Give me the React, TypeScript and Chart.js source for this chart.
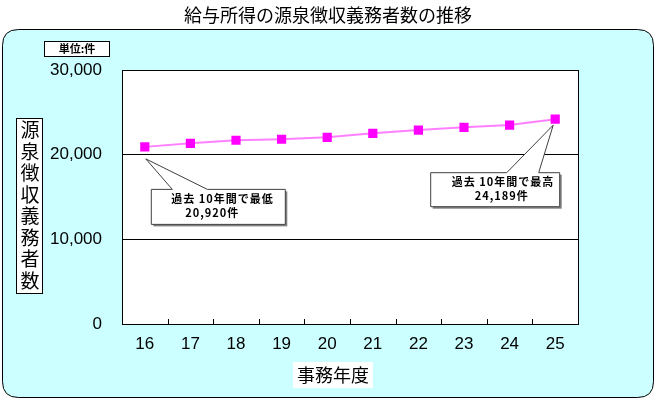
import React, { useEffect, useRef } from 'react';
import { Chart, registerables } from 'chart.js';

Chart.register(...registerables);

const categories = ['16', '17', '18', '19', '20', '21', '22', '23', '24', '25'];
const counts = [20920, 21340, 21700, 21820, 22050, 22520, 22900, 23230, 23500, 24189];
const yMin = 0;
const yMax = 30000;
const yStep = 10000;
const chartTitle = '給与所得の源泉徴収義務者数の推移';
const yAxisTitle = '源泉徴収義務者数';
const xAxisTitle = '事務年度';
const unitLabel = '単位:件';
const lowNote = ['過去 10年間で最低', '20,920件'];
const highNote = ['過去 10年間で最高', '24,189件'];

const JP = '"Noto Sans CJK JP", sans-serif';
const NUM = '"Liberation Sans", Arial, sans-serif';

function roundRect(ctx: CanvasRenderingContext2D, x: number, y: number, w: number, h: number, r: number) {
  ctx.beginPath();
  ctx.moveTo(x + r, y);
  ctx.lineTo(x + w - r, y);
  ctx.quadraticCurveTo(x + w, y, x + w, y + r);
  ctx.lineTo(x + w, y + h - r);
  ctx.quadraticCurveTo(x + w, y + h, x + w - r, y + h);
  ctx.lineTo(x + r, y + h);
  ctx.quadraticCurveTo(x, y + h, x, y + h - r);
  ctx.lineTo(x, y + r);
  ctx.quadraticCurveTo(x, y, x + r, y);
  ctx.closePath();
}

function callout(
  ctx: CanvasRenderingContext2D,
  box: { x: number; y: number; w: number; h: number },
  apex: { x: number; y: number },
  b1: number,
  b2: number,
  lines: string[],
  lineX: number[],
) {
  const { x, y, w, h } = box;
  ctx.save();
  ctx.fillStyle = '#808080';
  ctx.fillRect(x + 2, y + 2, w, h);
  ctx.beginPath();
  ctx.moveTo(x, y);
  ctx.lineTo(x + b1, y);
  ctx.lineTo(apex.x, apex.y);
  ctx.lineTo(x + b2, y);
  ctx.lineTo(x + w, y);
  ctx.lineTo(x + w, y + h);
  ctx.lineTo(x, y + h);
  ctx.closePath();
  ctx.fillStyle = '#ffffff';
  ctx.fill();
  ctx.strokeStyle = '#404040';
  ctx.lineWidth = 1;
  ctx.stroke();
  ctx.fillStyle = '#000000';
  ctx.font = `bold 11px ${JP}`;
  ctx.textBaseline = 'middle';
  ctx.textAlign = 'left';
  (ctx as any).letterSpacing = '1px';
  ctx.fillText(lines[0], x + lineX[0], y + 9);
  ctx.fillText(lines[1], x + lineX[1], y + 23);
  ctx.restore();
}

const decorPlugin = {
  id: 'decor',
  beforeDraw(chart: any) {
    const ctx: CanvasRenderingContext2D = chart.ctx;
    const { chartArea } = chart;
    ctx.save();
    ctx.fillStyle = '#ffffff';
    ctx.fillRect(0, 0, chart.width, chart.height);
    roundRect(ctx, 2.5, 29.5, 651, 368, 16);
    ctx.fillStyle = '#CCFFFF';
    ctx.fill();
    ctx.strokeStyle = '#000000';
    ctx.lineWidth = 1;
    ctx.stroke();
    ctx.fillStyle = '#ffffff';
    ctx.fillRect(chartArea.left, chartArea.top, chartArea.right - chartArea.left, chartArea.bottom - chartArea.top);
    ctx.fillStyle = '#000000';
    ctx.font = `18px ${JP}`;
    ctx.textAlign = 'center';
    ctx.textBaseline = 'middle';
    ctx.fillText(chartTitle, 328, 15);
    ctx.restore();
  },
  afterDatasetsDraw(chart: any) {
    const ctx: CanvasRenderingContext2D = chart.ctx;
    const { chartArea } = chart;
    const xs = chart.scales.x;
    const ys = chart.scales.y;
    ctx.save();
    ctx.strokeStyle = '#000000';
    ctx.lineWidth = 1;
    ctx.strokeRect(Math.round(chartArea.left) + 0.5, Math.round(chartArea.top) + 0.5,
      Math.round(chartArea.right - chartArea.left), Math.round(chartArea.bottom - chartArea.top));
    for (let i = 1; i < categories.length; i++) {
      const px = Math.round((xs.getPixelForValue(i - 1) + xs.getPixelForValue(i)) / 2) + 0.5;
      ctx.beginPath();
      ctx.moveTo(px, chartArea.bottom);
      ctx.lineTo(px, chartArea.bottom - 5);
      ctx.stroke();
    }
    let minI = 0;
    let maxI = 0;
    counts.forEach((v, i) => {
      if (v < counts[minI]) minI = i;
      if (v > counts[maxI]) maxI = i;
    });
    const lx = xs.getPixelForValue(minI);
    const ly = ys.getPixelForValue(counts[minI]);
    callout(ctx, { x: lx + 6.5, y: ly + 42.5, w: 134, h: 35 }, { x: lx + 1, y: ly + 12 }, 21, 56, lowNote, [20, 34]);
    const hx = xs.getPixelForValue(maxI);
    const hy = ys.getPixelForValue(counts[maxI]);
    callout(ctx, { x: hx - 124.5, y: hy + 53.5, w: 129, h: 34 }, { x: hx - 2, y: hy + 6 }, 76, 108, highNote, [21, 44]);
    ctx.restore();
  },
  afterDraw(chart: any) {
    const ctx: CanvasRenderingContext2D = chart.ctx;
    ctx.save();
    ctx.strokeStyle = '#000000';
    ctx.lineWidth = 1;
    ctx.fillStyle = '#ffffff';
    ctx.fillRect(44.5, 41.5, 65, 15);
    ctx.strokeRect(44.5, 41.5, 65, 15);
    ctx.fillStyle = '#000000';
    ctx.font = `bold 11px ${JP}`;
    ctx.textAlign = 'center';
    ctx.textBaseline = 'middle';
    ctx.fillText(unitLabel, 77, 49);
    ctx.fillStyle = '#ffffff';
    ctx.fillRect(16.5, 118.5, 26, 175);
    ctx.strokeRect(16.5, 118.5, 26, 175);
    ctx.fillStyle = '#000000';
    ctx.font = `19px ${JP}`;
    const chars = Array.from(yAxisTitle);
    chars.forEach((c, i) => {
      ctx.fillText(c, 30, 130 + i * 21.5);
    });
    ctx.fillStyle = '#ffffff';
    ctx.fillRect(293, 362, 80, 26);
    ctx.fillStyle = '#000000';
    ctx.font = `18px ${JP}`;
    ctx.fillText(xAxisTitle, 333, 375);
    ctx.restore();
  },
};

export default function App() {
  const ref = useRef<HTMLCanvasElement | null>(null);
  useEffect(() => {
    if (!ref.current) return;
    const chart = new Chart(ref.current, {
      type: 'line',
      data: {
        labels: categories,
        datasets: [
          {
            data: counts,
            borderColor: '#FF80FF',
            borderWidth: 2,
            backgroundColor: '#FF00FF',
            pointStyle: 'rect',
            pointRadius: 6.5,
            pointBorderWidth: 0,
            pointBackgroundColor: '#FF00FF',
            pointBorderColor: '#FF00FF',
            tension: 0,
          },
        ],
      },
      options: {
        responsive: false,
        animation: false,
        devicePixelRatio: 1,
        layout: { padding: { left: 0, right: 78, top: 70, bottom: 0 } },
        plugins: {
          legend: { display: false },
          title: { display: false },
          tooltip: { enabled: false },
        },
        scales: {
          x: {
            type: 'category',
            offset: true,
            grid: { display: false, drawTicks: false },
            border: { display: false },
            ticks: {
              color: '#000000',
              font: { family: NUM, size: 17 },
              padding: 10,
              maxRotation: 0,
              autoSkip: false,
            },
            afterFit: (scale: any) => {
              scale.height = 76;
            },
          },
          y: {
            min: yMin,
            max: yMax,
            grid: { color: '#000000', lineWidth: 1, drawTicks: false },
            border: { display: false },
            ticks: {
              stepSize: yStep,
              color: '#000000',
              font: { family: NUM, size: 17 },
              padding: 20,
              callback: (v: any) => Number(v).toLocaleString('en-US'),
            },
            afterFit: (scale: any) => {
              scale.width = 122;
            },
          },
        },
      },
      plugins: [decorPlugin],
    });
    return () => chart.destroy();
  }, []);
  return (
    <div style={{ position: 'fixed', left: 0, top: 0, width: 656, height: 400 }}>
      <canvas ref={ref} width={656} height={400} style={{ display: 'block' }} />
    </div>
  );
}
